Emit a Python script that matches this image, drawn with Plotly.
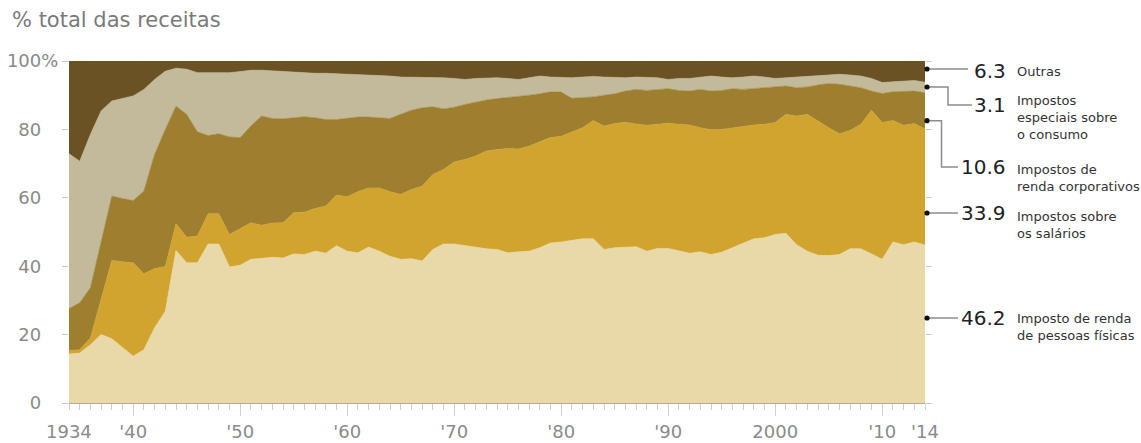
import plotly.graph_objects as go

# ---- data: share of total federal receipts (%) ----
years = list(range(1934, 2015))

individual = [
    14.3, 14.6, 17.0, 20.0, 18.8, 16.3, 13.7, 15.6, 22.0, 26.8,
    44.6, 41.0, 41.0, 46.5, 46.5, 39.8, 40.3, 42.0, 42.2, 42.6,
    42.4, 43.6, 43.4, 44.4, 43.8, 46.0, 44.4, 43.9, 45.6, 44.4,
    42.9, 42.0, 42.2, 41.5, 44.9, 46.5, 46.5, 46.0, 45.6, 45.1,
    44.9, 43.9, 44.2, 44.4, 45.4, 46.8, 47.1, 47.5, 48.0, 48.0,
    44.9, 45.4, 45.6, 45.7, 44.4, 45.2, 45.2, 44.4, 43.8, 44.2,
    43.4, 44.1, 45.4, 46.8, 48.0, 48.3, 49.3, 49.6, 46.3, 44.4,
    43.2, 43.1, 43.4, 45.1, 45.1, 43.6, 42.0, 47.1, 46.3, 47.1,
    46.2,
]
payroll = [
    1.0, 1.0, 2.0, 10.7, 22.9, 25.0, 27.3, 22.2, 17.3, 13.1,
    7.8, 7.5, 7.8, 8.8, 8.8, 9.5, 10.7, 10.7, 9.8, 10.0,
    10.3, 12.0, 12.4, 12.5, 13.8, 14.8, 15.9, 17.9, 17.3, 18.5,
    18.9, 19.0, 20.2, 21.9, 21.9, 21.8, 24.0, 25.2, 26.6, 28.6,
    29.2, 30.5, 30.1, 30.7, 31.0, 30.8, 30.9, 31.8, 32.5, 34.6,
    36.1, 36.3, 36.5, 35.9, 36.8, 36.3, 36.6, 37.1, 37.5, 36.3,
    36.5, 35.9, 35.1, 34.2, 33.3, 33.2, 32.7, 34.8, 37.6, 40.0,
    39.2, 37.4, 35.3, 34.6, 36.4, 42.0, 40.0, 35.5, 34.9, 34.6,
    33.9,
]
corporate = [
    12.3, 13.7, 14.7, 16.1, 18.8, 18.5, 18.2, 24.2, 33.4, 40.1,
    34.4, 35.9, 30.5, 22.9, 23.4, 28.5, 26.6, 28.3, 31.9, 30.6,
    30.4, 27.8, 27.9, 26.5, 25.3, 22.1, 22.9, 21.8, 20.7, 20.5,
    21.4, 23.4, 23.2, 22.9, 19.8, 17.7, 16.0, 16.1, 15.8, 14.9,
    14.9, 14.9, 15.2, 14.9, 14.0, 13.4, 12.9, 9.8, 8.8, 6.9,
    9.0, 8.7, 9.1, 10.1, 10.2, 10.2, 10.1, 9.9, 9.9, 11.2,
    11.3, 11.4, 11.4, 10.7, 10.6, 10.7, 10.4, 8.3, 8.3, 8.0,
    10.6, 12.9, 14.5, 13.0, 10.7, 5.6, 8.5, 8.4, 10.0, 9.5,
    10.6,
]
excise = [
    45.3, 41.4, 44.8, 38.6, 27.8, 29.2, 30.6, 29.7, 21.9, 17.0,
    11.1, 13.2, 17.3, 18.4, 17.9, 18.8, 19.3, 16.3, 13.4, 13.9,
    13.8, 13.2, 12.9, 13.0, 13.5, 13.4, 12.8, 12.3, 12.3, 12.5,
    12.4, 10.9, 9.7, 8.8, 8.7, 9.1, 8.4, 7.3, 6.9, 6.5,
    6.1, 5.6, 5.1, 5.1, 5.2, 4.3, 4.2, 6.0, 6.0, 6.0,
    5.3, 4.7, 3.9, 3.6, 3.7, 3.4, 2.7, 3.5, 3.7, 3.6,
    4.4, 3.9, 3.2, 3.6, 3.7, 3.1, 2.5, 2.4, 3.1, 2.9,
    2.6, 2.5, 2.9, 3.2, 3.4, 3.7, 3.2, 2.9, 2.9, 3.1,
    3.1,
]
other = [
    27.1, 29.3, 21.5, 14.6, 11.7, 11.0, 10.2, 8.3, 5.4, 3.0,
    2.1, 2.4, 3.4, 3.4, 3.4, 3.4, 3.1, 2.7, 2.7, 2.9,
    3.1, 3.4, 3.4, 3.6, 3.6, 3.7, 4.0, 4.1, 4.1, 4.1,
    4.4, 4.7, 4.7, 4.9, 4.7, 4.9, 5.1, 5.4, 5.1, 4.9,
    4.9, 5.1, 5.4, 4.9, 4.4, 4.7, 4.9, 4.9, 4.7, 4.5,
    4.7, 4.9, 4.9, 4.7, 4.9, 4.9, 5.4, 5.1, 5.1, 4.7,
    4.4, 4.7, 4.9, 4.7, 4.4, 4.7, 5.1, 4.9, 4.7, 4.7,
    4.4, 4.1, 3.9, 4.1, 4.4, 5.1, 6.3, 6.1, 5.9, 5.7,
    6.3,
]

series_labels = [
    "Imposto de renda<br>de pessoas físicas",
    "Impostos sobre<br>os salários",
    "Impostos de<br>renda corporativos",
    "Impostos<br>especiais sobre<br>o consumo",
    "Outras",
]
series_values = [individual, payroll, corporate, excise, other]
series_colors = ["#e9d9a9", "#d1a42f", "#9d7f2f", "#c3ba9b", "#6a5224"]

y_tickvals = [0, 20, 40, 60, 80, 100]
y_ticktext = ["0", "20", "40", "60", "80", "100%"]
x_tickvals = [1940, 1950, 1960, 1970, 1980, 1990, 2000, 2010]
x_ticktext = ["'40", "'50", "'60", "'70", "'80", "'90", "2000", "'10"]
x_end_ticks = [(1934, "1934"), (2014, "'14")]

title_text = "% total das receitas"

# ---- page geometry (pixels) ----
W, H = 1141, 443
L, R, T, B = 69, 216, 61, 40
PW, PH = W - L - R, H - T - B


def fx(px):
    return (px - L) / PW


def fy(py):
    return (H - B - py) / PH


fig = go.Figure()
for vals, color, name in zip(series_values, series_colors, series_labels):
    fig.add_trace(go.Scatter(
        x=years, y=vals, stackgroup="one", mode="lines",
        line=dict(width=0.6, color=color), fillcolor=color,
        name=name.replace("<br>", " "), hoverinfo="x+y+name",
    ))

TICK_GRAY = "#8a8a8a"
NBSP = "\u00a0"
# pad the plain numbers so they line up with the "100" of "100%"
y_labels = [t if t.endswith("%") else t + NBSP * 3 for t in y_ticktext]

fig.update_layout(
    width=W, height=H,
    margin=dict(l=L, r=R, t=T, b=B, pad=0, autoexpand=False),
    paper_bgcolor="white", plot_bgcolor="white",
    showlegend=False,
    font=dict(family="DejaVu Sans", color=TICK_GRAY),
    title=dict(text=title_text, x=12 / W, xanchor="left", xref="container",
               y=1 - 20 / H, yanchor="middle", yref="container",
               font=dict(family="DejaVu Sans", size=21, color="#7a7a7a")),
    xaxis=dict(
        range=[1934, 2014], tickvals=x_tickvals, ticktext=x_ticktext,
        ticks="outside", ticklen=12, tickcolor="#cfcfcf", tickwidth=1,
        minor=dict(dtick=1, tick0=1934, ticks="outside", ticklen=6,
                   tickcolor="#cfcfcf", tickwidth=1),
        showgrid=False, zeroline=False,
        showline=True, linecolor="#b5aa8c", linewidth=1,
        tickfont=dict(size=18, color=TICK_GRAY),
        fixedrange=True,
    ),
    yaxis=dict(
        range=[0, 100], tickvals=y_tickvals, ticktext=y_labels,
        ticks="outside", ticklen=6, tickcolor="#c8c8c8", tickwidth=1,
        mirror="ticks", showline=False,
        showgrid=False, zeroline=False,
        tickfont=dict(size=18, color=TICK_GRAY),
        ticklabelstandoff=0,
        fixedrange=True,
    ),
)

# end-of-range year labels sit under short ticks
for yr, txt in x_end_ticks:
    fig.add_annotation(x=yr, xref="x", y=fy(431), yref="paper", text=txt,
                       showarrow=False, xanchor="center", yanchor="middle",
                       font=dict(size=18, color=TICK_GRAY, family="DejaVu Sans"))

# ---- callouts on the right: dot, connector, latest value, series name ----
# (dot_y, elbow_x, text_y, line_end_x, first_line_center) in pixels
callouts = [
    (318.0, None, 318.0, 958, 318.0),   # individual
    (213.0, None, 213.0, 958, 216.0),   # payroll
    (120.7, 941.5, 167.0, 958, 169.5),  # corporate
    (87.0, 948.0, 105.0, 972, 100.5),   # excise
    (69.0, None, 71.0, 968, 71.5),      # other
]
DOT_X = 927
LINE_COLOR = "#8c8c8c"
for (dot_y, elbow_x, text_y, end_x, first_y), vals, label in zip(
        callouts, series_values, series_labels):
    if elbow_x is None:
        pts = [(DOT_X, dot_y), (end_x, dot_y)]
    else:
        pts = [(DOT_X, dot_y), (elbow_x, dot_y), (elbow_x, text_y), (end_x, text_y)]
    path = "M " + " L ".join(f"{fx(a):.5f},{fy(b):.5f}" for a, b in pts)
    fig.add_shape(type="path", path=path, xref="paper", yref="paper",
                  line=dict(color=LINE_COLOR, width=1.5))
    fig.add_shape(type="circle", xref="paper", yref="paper",
                  xsizemode="pixel", ysizemode="pixel",
                  xanchor=fx(DOT_X), yanchor=fy(dot_y),
                  x0=-2.6, x1=2.6, y0=-2.6, y1=2.6,
                  fillcolor="#111111", line=dict(width=0))
    fig.add_annotation(x=fx(1008), y=fy(text_y), xref="paper", yref="paper",
                       text=f"{vals[-1]:.1f}", showarrow=False,
                       xanchor="right", yanchor="middle",
                       font=dict(size=20, color="#222222", family="DejaVu Sans"))
    fig.add_annotation(x=fx(1015), y=fy(first_y - 9.5), xref="paper", yref="paper",
                       text=label, showarrow=False, align="left",
                       xanchor="left", yanchor="top",
                       font=dict(size=13, color="#333333", family="DejaVu Sans"))

fig.write_html("out.html")
